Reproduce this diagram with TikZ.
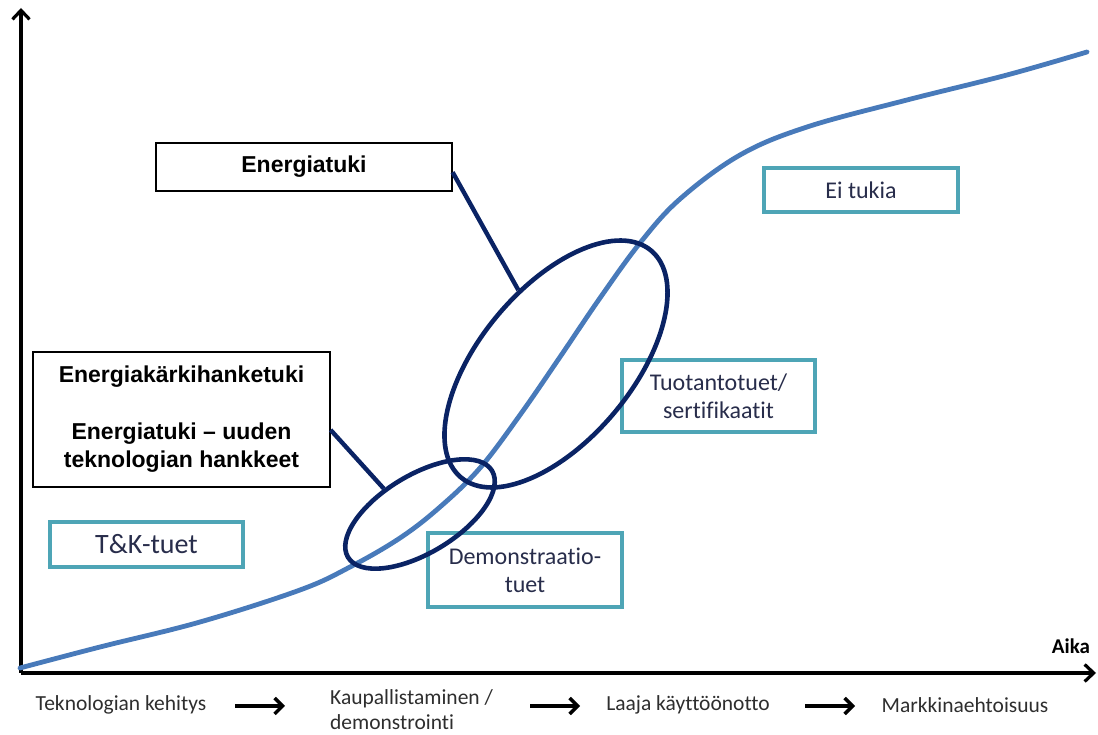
\documentclass[tikz,border=0pt]{standalone}
\usepackage{fontspec}
\setmainfont{Carlito}[Ligatures=NoCommon]
\newfontfamily\arialfont{Liberation Sans}
\usetikzlibrary{arrows.meta,shapes.geometric,calc,shadows}
\definecolor{curveblue}{RGB}{72,122,186}
\definecolor{navyline}{RGB}{10,35,100}
\definecolor{tealb}{RGB}{78,165,182}
\definecolor{boxtext}{RGB}{40,45,75}
\tikzset{
  tealbox/.style={draw=tealb, line width=3.2pt, fill=white, text=boxtext, align=center, inner sep=0pt,
    font=\fontsize{24}{28}\selectfont,
    drop shadow={opacity=0.2, shadow xshift=1.5pt, shadow yshift=-1.5pt}},
  blackbox/.style={draw=black, line width=1.2pt, fill=white, align=center, inner sep=0pt,
    font=\arialfont\bfseries\fontsize{23}{28}\selectfont},
  ell/.style={draw=navyline, line width=4.6pt, ellipse, inner sep=0pt},
  conn/.style={draw=navyline, line width=4.4pt},
  curvestyle/.style={draw=curveblue, line width=4.8pt},
  axisline/.style={draw=black, line width=3.2pt, -{Straight Barb[length=9pt,width=17pt]}},
  flow/.style={draw=black, line width=3.4pt, -{Straight Barb[length=8pt,width=16pt]}},
  lbl/.style={font=\fontsize{21.5}{25}\selectfont, text=black!82, inner sep=0pt}
}
\begin{document}
\begin{tikzpicture}[x=1pt,y=1pt]
\useasboundingbox (0,0) rectangle (1098,735);
% axes
\coordinate (O) at (21,62);
\coordinate (ytop) at (21,727);
\coordinate (xend) at (1096,62);
\draw[axisline] (O) -- (ytop);
\draw[axisline] (O) -- (xend);
\node[font=\bfseries\fontsize{21}{24}\selectfont, inner sep=0pt] (aika) at (1071,89) {Aika};
% teal boxes
\node[tealbox, minimum width=193pt, minimum height=45pt, font=\fontsize{28}{30}\selectfont] (tk) at (146.5,190.5) {T\&K-tuet};
\node[tealbox, minimum width=194pt, minimum height=74pt] (demo) at (525,165) {Demonstraatio-\\tuet};
\node[tealbox, minimum width=193pt, minimum height=72pt] (tuot) at (718.5,339) {Tuotantotuet/\\sertifikaatit};
\node[tealbox, minimum width=194pt, minimum height=44pt] (ei) at (861,545) {Ei tukia};
% curve
\draw[curvestyle, line cap=round] plot[smooth, tension=0.6] coordinates {
 (20,67) (100,88) (200,113) (300,145) (350,168) (400,197) (440,228) (480,267)
 (520,320) (560,378) (600,437) (640,492) (680,536) (740,580) (807,608)
 (907,635) (1007,660) (1087,683)};
% black boxes
\node[blackbox, minimum width=296pt, minimum height=48pt] (e1) at (304,568) {Energiatuki};
\node[blackbox, minimum width=297pt, minimum height=135pt] (e2) at (181.5,315.5)
  {Energiakärkihanketuki\\[29pt]Energiatuki – uuden\\teknologian hankkeet};
% ellipses
\node[ell, minimum width=296pt, minimum height=152pt, rotate=50] (bigE) at (556,371) {};
\node[ell, minimum width=168pt, minimum height=78pt, rotate=31] (smallE) at (420,221) {};
% connectors
\draw[conn] (e1.-2.3) -- (bigE.67);
\draw[conn] (e2.-4) -- (smallE.114);
% bottom phases
\node[lbl] (t1) at (121,30) {Teknologian kehitys};
\node[lbl, align=left, anchor=west] (t2) at (330,25) {Kaupallistaminen /\\demonstrointi};
\node[lbl] (t3) at (688,30) {Laaja käyttöönotto};
\node[lbl] (t4) at (965,30) {Markkinaehtoisuus};
\coordinate (a1s) at (235,29); \coordinate (a1e) at (285,29);
\coordinate (a2s) at (530,29); \coordinate (a2e) at (580,29);
\coordinate (a3s) at (805,29); \coordinate (a3e) at (855,29);
\draw[flow] (a1s) -- (a1e);
\draw[flow] (a2s) -- (a2e);
\draw[flow] (a3s) -- (a3e);
\end{tikzpicture}
\end{document}
